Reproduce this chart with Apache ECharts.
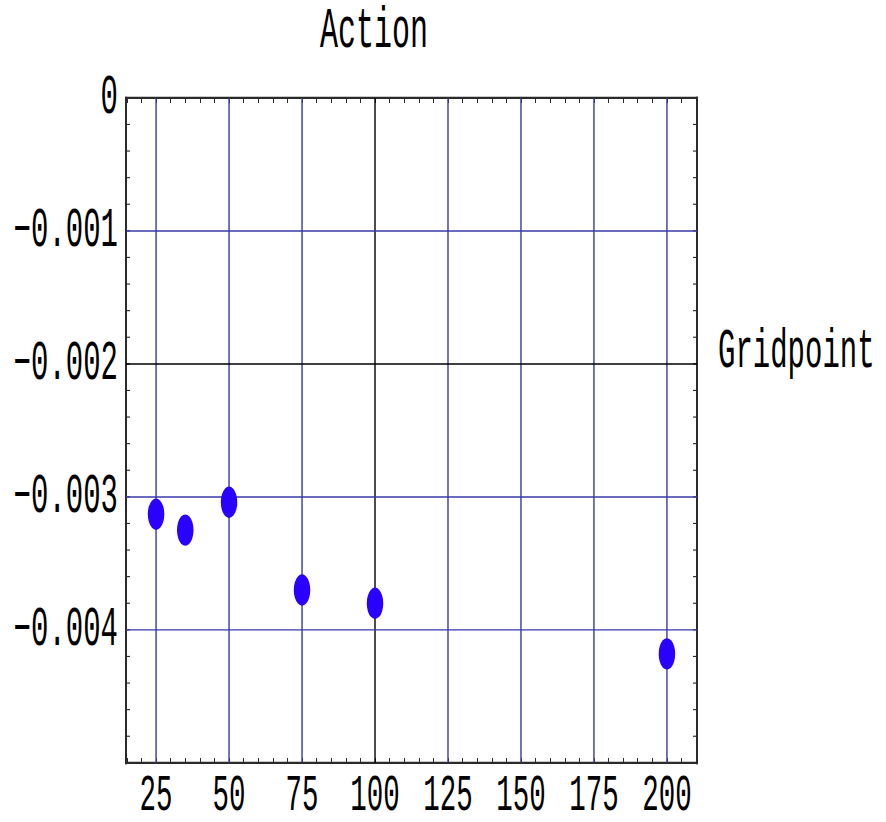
<!DOCTYPE html>
<html>
<head>
<meta charset="utf-8">
<script src="https://cdn.jsdelivr.net/npm/echarts@6/dist/echarts.min.js"></script>
<style>
  html, body { margin: 0; padding: 0; background: #fff; width: 886px; height: 822px; }
  /* the plot is drawn at half height and stretched vertically */
  #chart { width: 886px; height: 432.6px; transform: scaleY(1.9); transform-origin: 0 0; }
</style>
</head>
<body>
<div id="chart"></div>
<script>
// Action versus number of gridpoints
const gridpoints   = [25, 35, 50, 75, 100, 200];
const actionValues = [-0.00313, -0.00325, -0.00304, -0.00370, -0.00380, -0.00418];

// tick labels
const xTickLabels = [25, 50, 75, 100, 125, 150, 175, 200];
const yTickLabels = [0, -0.001, -0.002, -0.003, -0.004];

// grid lines drawn in black instead of blue
const xBlackLines = [100];
const yBlackLines = [-0.002];

// plot range
const X_MIN = 14.7, X_MAX = 210.3;
const Y_MIN = -0.005, Y_MAX = 0;

// minor frame ticks
const xMinorTicks = [];
for (let v = 15; v <= 210; v += 5) xMinorTicks.push(v);
const yMinorTicks = [];
for (let i = 0; i <= 25; i++) yMinorTicks.push(Math.round(-i * 2) / 10000);

const FONT = '"Liberation Mono", "DejaVu Sans Mono", monospace';
const FRAME = '#2b2b2b';
const BLUE_GRID = '#3838aa';

// grid lines as plain line series in data space
const gridSeries = [
  ...xTickLabels.map(v => ({
    type: 'line', silent: true, symbol: 'none', z: 1, animation: false,
    data: [[v, Y_MIN], [v, Y_MAX]],
    lineStyle: { color: xBlackLines.includes(v) ? '#000' : BLUE_GRID, width: 1.4 }
  })),
  ...yTickLabels.filter(v => v !== 0).map(v => ({
    type: 'line', silent: true, symbol: 'none', z: 1, animation: false,
    data: [[X_MIN, v], [X_MAX, v]],
    lineStyle: { color: yBlackLines.includes(v) ? '#000' : BLUE_GRID, width: 0.75 }
  }))
];

function frameX(position, withLabels) {
  return {
    type: 'value', min: X_MIN, max: X_MAX, position,
    axisLine: { show: true, onZero: false, lineStyle: { color: FRAME, width: 1.1 } },
    axisTick: { show: true, inside: true, length: 2.6, customValues: xMinorTicks, lineStyle: { color: FRAME, width: 1 } },
    axisLabel: withLabels
      ? { show: true, customValues: xTickLabels, margin: 7.5, lineHeight: 20, color: '#000', fontFamily: FONT, fontSize: 27.5 }
      : { show: false },
    splitLine: { show: false },
    minorSplitLine: { show: false }
  };
}

function frameY(position, withLabels) {
  return {
    type: 'value', min: Y_MIN, max: Y_MAX, position,
    axisLine: { show: true, onZero: false, lineStyle: { color: FRAME, width: 2 } },
    axisTick: { show: true, inside: true, length: 4, customValues: yMinorTicks, lineStyle: { color: FRAME, width: 0.6 } },
    axisLabel: withLabels
      ? { show: true, customValues: yTickLabels, margin: 8, lineHeight: 20, color: '#000', fontFamily: FONT, fontSize: 29,
          formatter: v => (v === 0 ? '0' : '\u2212' + Math.abs(v).toFixed(3)) }
      : { show: false },
    splitLine: { show: false },
    minorSplitLine: { show: false }
  };
}

const chart = echarts.init(document.getElementById('chart'), null, { renderer: 'svg' });

chart.setOption({
  animation: false,
  backgroundColor: '#fff',
  grid: { left: 126, top: 51.6, width: 571, height: 351.6 },
  xAxis: [frameX('bottom', true), frameX('top', false)],
  yAxis: [frameY('left', true), frameY('right', false)],
  graphic: [
    { type: 'text', x: 374, y: 17, z: 10,
      style: { text: 'Action', font: '30px ' + FONT, fill: '#000', align: 'center', verticalAlign: 'middle' } },
    { type: 'text', x: 718, y: 185.5, z: 10,
      style: { text: 'Gridpoint', font: '29px ' + FONT, fill: '#000', align: 'left', verticalAlign: 'middle' } }
  ],
  series: [
    ...gridSeries,
    {
      type: 'scatter',
      data: gridpoints.map((g, i) => [g, actionValues[i]]),
      symbol: 'circle',
      symbolSize: [16.5, 16.5],
      itemStyle: { color: '#2a00ff', opacity: 1 },
      z: 5
    }
  ]
});
</script>
</body>
</html>
